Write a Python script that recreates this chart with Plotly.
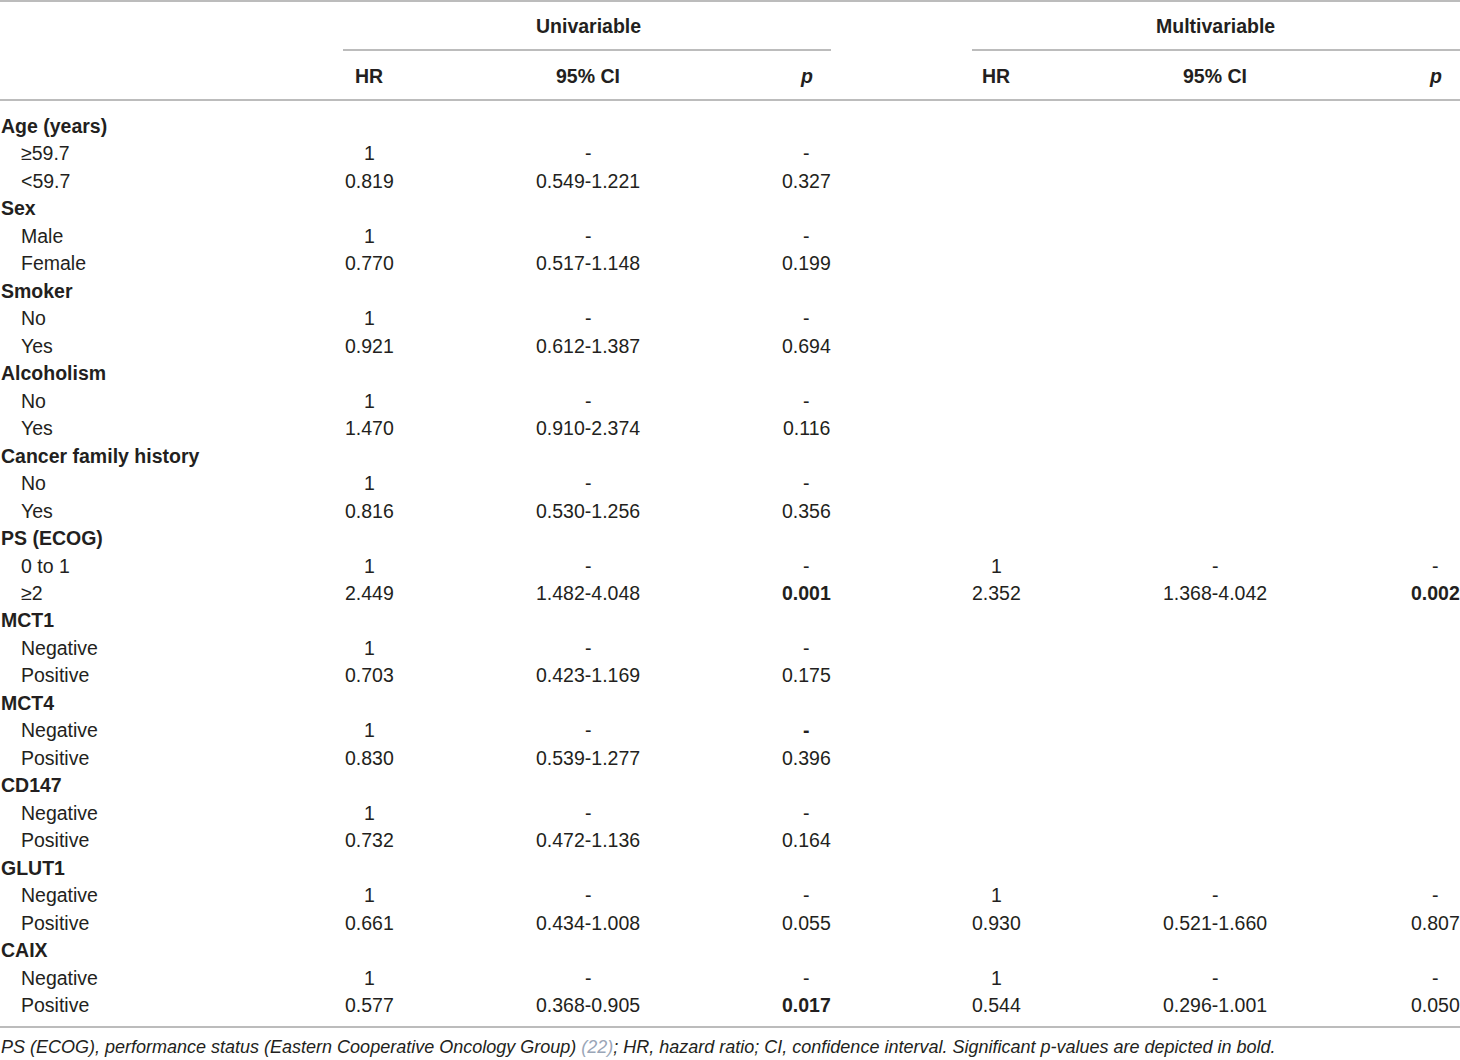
import plotly.graph_objects as go

# ---- table content -------------------------------------------------------
variables = ["Age (years)", "Sex", "Smoker", "Alcoholism", "Cancer family history",
             "PS (ECOG)", "MCT1", "MCT4", "CD147", "GLUT1", "CAIX"]
levels = [["≥59.7", "<59.7"], ["Male", "Female"], ["No", "Yes"], ["No", "Yes"],
          ["No", "Yes"], ["0 to 1", "≥2"], ["Negative", "Positive"],
          ["Negative", "Positive"], ["Negative", "Positive"],
          ["Negative", "Positive"], ["Negative", "Positive"]]

uni_hr = [["1", "0.819"], ["1", "0.770"], ["1", "0.921"], ["1", "1.470"],
          ["1", "0.816"], ["1", "2.449"], ["1", "0.703"], ["1", "0.830"],
          ["1", "0.732"], ["1", "0.661"], ["1", "0.577"]]
uni_ci = [["-", "0.549-1.221"], ["-", "0.517-1.148"], ["-", "0.612-1.387"],
          ["-", "0.910-2.374"], ["-", "0.530-1.256"], ["-", "1.482-4.048"],
          ["-", "0.423-1.169"], ["-", "0.539-1.277"], ["-", "0.472-1.136"],
          ["-", "0.434-1.008"], ["-", "0.368-0.905"]]
uni_p = [["-", "0.327"], ["-", "0.199"], ["-", "0.694"], ["-", "0.116"],
         ["-", "0.356"], ["-", "0.001"], ["-", "0.175"], ["-", "0.396"],
         ["-", "0.164"], ["-", "0.055"], ["-", "0.017"]]
uni_p_bold = [[0, 0], [0, 0], [0, 0], [0, 0], [0, 0], [0, 1], [0, 0], [1, 0],
              [0, 0], [0, 0], [0, 1]]

# multivariable model only kept PS, GLUT1 and CAIX
multi_hr = {"PS (ECOG)": ["1", "2.352"], "GLUT1": ["1", "0.930"], "CAIX": ["1", "0.544"]}
multi_ci = {"PS (ECOG)": ["-", "1.368-4.042"], "GLUT1": ["-", "0.521-1.660"],
            "CAIX": ["-", "0.296-1.001"]}
multi_p = {"PS (ECOG)": ["-", "0.002"], "GLUT1": ["-", "0.807"], "CAIX": ["-", "0.050"]}
multi_p_bold = {"PS (ECOG)": [0, 1], "GLUT1": [0, 0], "CAIX": [0, 0]}

footnote = ("PS (ECOG), performance status (Eastern Cooperative Oncology Group) "
            "<span style='color:#9aa6b8'>(22)</span>; HR, hazard ratio; CI, confidence "
            "interval. Significant p-values are depicted in bold.")

# ---- layout constants ----------------------------------------------------
W, H = 1460, 1060
FONT = "Liberation Sans, Arial, sans-serif"
INK = "#231f20"
RULE = "#a6a6a6"
FS = 19.5
ROW0, ROW_STEP = 126, 27.47
COL_X = {"uni_hr": 369, "uni_ci": 588, "uni_p": 806,
         "multi_hr": 996, "multi_ci": 1215, "multi_p": 1435}

fig = go.Figure()
fig.add_trace(go.Scatter(x=[0, W], y=[0, H], mode="markers",
                         marker=dict(opacity=0), hoverinfo="skip", showlegend=False))

anns = []


def txt(x, y, s, bold=False, italic=False, anchor="center", size=FS, color=INK, dx=0):
    if bold:
        s = f"<b>{s}</b>"
    if italic:
        s = f"<i>{s}</i>"
    anns.append(dict(x=x, y=y, text=s, showarrow=False, xanchor=anchor, xshift=dx,
                     yanchor="middle", font=dict(family=FONT, size=size, color=color)))


# header
txt(588, 26, "Univariable", bold=True)
txt(1215, 26, "Multivariable", bold=True)
for key, lab in [("uni_hr", "HR"), ("uni_ci", "95% CI"), ("multi_hr", "HR"),
                 ("multi_ci", "95% CI")]:
    txt(COL_X[key], 76, lab, bold=True)
txt(COL_X["uni_p"], 76, "p", bold=True, italic=True)
txt(COL_X["multi_p"], 76, "p", bold=True, italic=True)

# body (annotation boxes pad ~2px, so left-anchored text is nudged back)
row = 0
for i, var in enumerate(variables):
    y = ROW0 + row * ROW_STEP
    txt(1, y, var, bold=True, anchor="left", dx=-2)
    row += 1
    for j, lev in enumerate(levels[i]):
        y = ROW0 + row * ROW_STEP
        txt(21, y, lev, anchor="left", dx=-2)
        txt(COL_X["uni_hr"], y, uni_hr[i][j])
        txt(COL_X["uni_ci"], y, uni_ci[i][j])
        txt(COL_X["uni_p"], y, uni_p[i][j], bold=bool(uni_p_bold[i][j]))
        if var in multi_hr:
            txt(COL_X["multi_hr"], y, multi_hr[var][j])
            txt(COL_X["multi_ci"], y, multi_ci[var][j])
            txt(COL_X["multi_p"], y, multi_p[var][j], bold=bool(multi_p_bold[var][j]))
        row += 1

txt(1, 1047, footnote, italic=True, anchor="left", size=18, dx=-2)

# rules
shapes = []
for x0, x1, y in [(0, W, 1), (343, 831, 50), (972, W, 50), (0, W, 100), (0, W, 1027)]:
    shapes.append(dict(type="line", x0=x0, x1=x1, y0=y, y1=y,
                       line=dict(color=RULE, width=1.5)))

fig.update_layout(
    width=W, height=H,
    margin=dict(l=0, r=0, t=0, b=0),
    paper_bgcolor="white", plot_bgcolor="white",
    xaxis=dict(range=[0, W], visible=False, fixedrange=True),
    yaxis=dict(range=[H, 0], visible=False, fixedrange=True),
    annotations=anns, shapes=shapes,
)
# drop the browser's default 8px body margin so the table sits flush
fig.write_html("out.html", config={"displayModeBar": False},
               post_script="document.body.style.margin='0';document.body.style.overflow='hidden';")
